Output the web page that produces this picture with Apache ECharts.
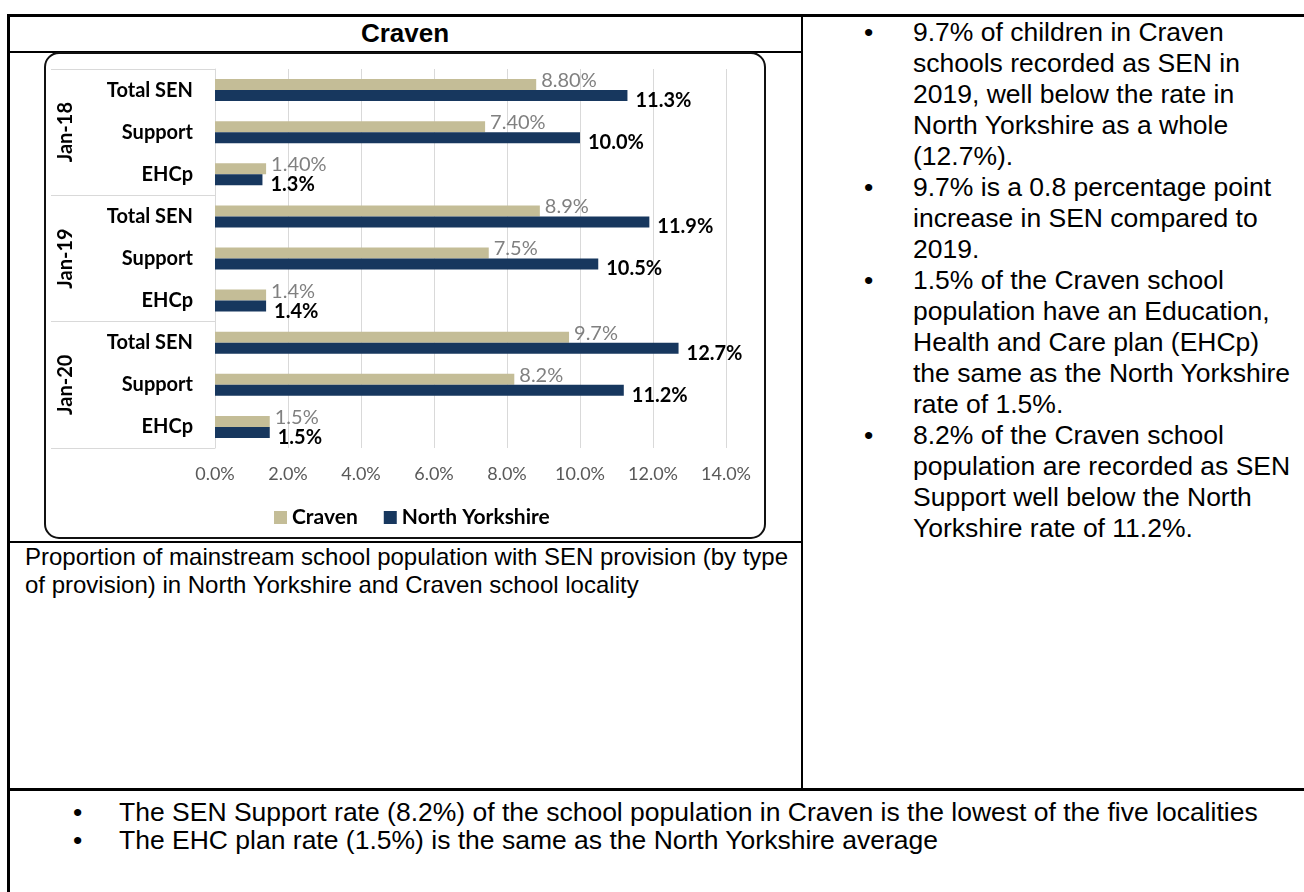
<!DOCTYPE html>
<html>
<head>
<meta charset="utf-8">
<script src="https://cdn.jsdelivr.net/npm/echarts@6/dist/echarts.min.js"></script>
<style>
  html, body { margin:0; padding:0; background:#fff; }
  body { width:1304px; height:892px; position:relative; overflow:hidden; font-family:"Liberation Sans", Arial, sans-serif; color:#000; }
  .ln { position:absolute; background:#000; }
  .txt { position:absolute; white-space:nowrap; }
  .bul { position:absolute; white-space:nowrap; }
  #chart { position:absolute; left:44px; top:52px; width:722px; height:488px; }
</style>
</head>
<body>
<!-- table lines -->
<div class="ln" style="left:7px;top:14px;width:1297px;height:3px;"></div>
<div class="ln" style="left:7px;top:14px;width:3px;height:878px;"></div>
<div class="ln" style="left:801px;top:14px;width:2px;height:776px;"></div>
<div class="ln" style="left:7px;top:51px;width:796px;height:2px;"></div>
<div class="ln" style="left:7px;top:541px;width:796px;height:2px;"></div>
<div class="ln" style="left:7px;top:788px;width:1297px;height:3px;"></div>

<div class="txt" style="left:8px;width:794px;top:16px;height:34px;line-height:34px;text-align:center;font-weight:bold;font-size:26px;">Craven</div>

<div id="chart"></div>

<div id="caption"></div>
<div id="right"></div>
<div id="bottom"></div>

<script>
// ---- chart data ----
const groups = ['Jan-18', 'Jan-19', 'Jan-20'];
const types = ['Total SEN', 'Support', 'EHCp'];
const seriesNames = ['Craven', 'North Yorkshire'];
const craven = [8.8, 7.4, 1.4, 8.9, 7.5, 1.4, 9.7, 8.2, 1.5];
const northYorkshire = [11.3, 10.0, 1.3, 11.9, 10.5, 1.4, 12.7, 11.2, 1.5];
const cravenDecimals = [2, 1, 1]; // label decimals per group
const xTicks = [0, 2, 4, 6, 8, 10, 12, 14];

// ---- document text ----
const rightBullets = [
  ['9.7% of children in Craven', 'schools recorded as SEN in', '2019, well below the rate in', 'North Yorkshire as a whole', '(12.7%).'],
  ['9.7% is a 0.8 percentage point', 'increase in SEN compared to', '2019.'],
  ['1.5% of the Craven school', 'population have an Education,', 'Health and Care plan (EHCp)', 'the same as the North Yorkshire', 'rate of 1.5%.'],
  ['8.2% of the Craven school', 'population are recorded as SEN', 'Support well below the North', 'Yorkshire rate of 11.2%.']
];
const captionLines = [
  'Proportion of mainstream school population with SEN provision (by type',
  'of provision) in North Yorkshire and Craven school locality'
];
const bottomBullets = [
  'The SEN Support rate (8.2%) of the school population in Craven is the lowest of the five localities',
  'The EHC plan rate (1.5%) is the same as the North Yorkshire average'
];

// build document text
(function () {
  const right = document.getElementById('right');
  let i = 0;
  rightBullets.forEach(b => {
    b.forEach((line, j) => {
      const cy = 32 + 31 * i;
      if (j === 0) {
        const d = document.createElement('div');
        d.className = 'bul';
        d.style.cssText = 'left:864px;top:' + (cy - 15.5) + 'px;line-height:31px;font-size:26.5px;';
        d.textContent = '\u2022';
        right.appendChild(d);
      }
      const t = document.createElement('div');
      t.className = 'txt';
      t.style.cssText = 'left:913px;top:' + (cy - 15.5) + 'px;line-height:31px;font-size:26.5px;';
      t.textContent = line;
      right.appendChild(t);
      i++;
    });
  });
  const cap = document.getElementById('caption');
  captionLines.forEach((line, k) => {
    const cy = 557 + 28 * k;
    const t = document.createElement('div');
    t.className = 'txt';
    t.style.cssText = 'left:25px;top:' + (cy - 14) + 'px;line-height:28px;font-size:24px;';
    t.textContent = line;
    cap.appendChild(t);
  });
  const bot = document.getElementById('bottom');
  bottomBullets.forEach((line, k) => {
    const cy = 812 + 28 * k;
    const d = document.createElement('div');
    d.className = 'bul';
    d.style.cssText = 'left:73px;top:' + (cy - 14) + 'px;line-height:28px;font-size:26.5px;';
    d.textContent = '\u2022';
    bot.appendChild(d);
    const t = document.createElement('div');
    t.className = 'txt';
    t.style.cssText = 'left:119px;top:' + (cy - 14) + 'px;line-height:28px;font-size:26.5px;';
    t.textContent = line;
    bot.appendChild(t);
  });
})();

// ---- chart ----
const categories = [];
groups.forEach(g => types.forEach(t => categories.push(g + '|' + t)));

const FONT = 'Lato';
const chart = echarts.init(document.getElementById('chart'));
const gridRect = { left: 171, top: 17, width: 511, height: 379 };

chart.setOption({
  animation: false,
  textStyle: { fontFamily: FONT },
  graphic: [{
    type: 'rect', z: -10, silent: true,
    shape: { x: 1, y: 1, width: 720, height: 485, r: 14 },
    style: { fill: 'none', stroke: '#111', lineWidth: 2 }
  }],
  legend: {
    data: seriesNames,
    left: 225, top: 450,
    itemWidth: 13, itemHeight: 13, itemGap: 26,
    icon: 'rect',
    textStyle: { fontFamily: FONT, fontWeight: 'bold', fontSize: 21, color: '#000' }
  },
  grid: [
    Object.assign({}, gridRect),
    Object.assign({}, gridRect)
  ],
  xAxis: [{
    type: 'value', gridIndex: 0,
    min: xTicks[0], max: xTicks[xTicks.length - 1], interval: xTicks[1] - xTicks[0],
    axisLine: { show: false }, axisTick: { show: false },
    splitLine: { show: true, lineStyle: { color: '#d9d9d9', width: 1 } },
    axisLabel: {
      margin: 17, color: '#595959', fontFamily: FONT, fontSize: 18,
      formatter: v => v.toFixed(1) + '%'
    }
  }, {
    type: 'value', gridIndex: 1, min: 0, max: 1, show: false
  }],
  yAxis: [{
    type: 'category', gridIndex: 0, inverse: true,
    data: categories,
    axisLine: { show: true, lineStyle: { color: '#d9d9d9', width: 1 } },
    axisTick: { show: false },
    splitLine: { show: false },
    axisLabel: {
      interval: 0, margin: 22, color: '#000', fontFamily: FONT, fontWeight: 'bold', fontSize: 20,
      formatter: v => v.split('|')[1]
    }
  }, {
    type: 'category', gridIndex: 1, inverse: true,
    data: groups,
    axisLine: { show: false },
    axisTick: { show: true, length: 164, interval: 0, lineStyle: { color: '#d9d9d9', width: 1 } },
    splitLine: { show: false },
    axisLabel: {
      interval: 0, rotate: 90, margin: 139, color: '#000', fontFamily: FONT, fontWeight: 'bold', fontSize: 20
    }
  }],
  series: [{
    name: seriesNames[0], type: 'bar', xAxisIndex: 0, yAxisIndex: 0,
    data: craven, barWidth: 11, barGap: '0%',
    itemStyle: { color: '#C4BD97' },
    label: {
      show: true, position: 'right', distance: 5, offset: [0, -4],
      color: '#808080', fontFamily: FONT, fontSize: 20,
      formatter: p => p.value.toFixed(cravenDecimals[Math.floor(p.dataIndex / types.length)]) + '%'
    }
  }, {
    name: seriesNames[1], type: 'bar', xAxisIndex: 0, yAxisIndex: 0,
    data: northYorkshire, barWidth: 11, barGap: '0%',
    itemStyle: { color: '#17375E' },
    label: {
      show: true, position: 'right', distance: 8, offset: [0, 5],
      color: '#000', fontFamily: FONT, fontWeight: 'bold', fontSize: 20,
      formatter: p => p.value.toFixed(1) + '%'
    }
  }]
});
</script>
</body>
</html>
